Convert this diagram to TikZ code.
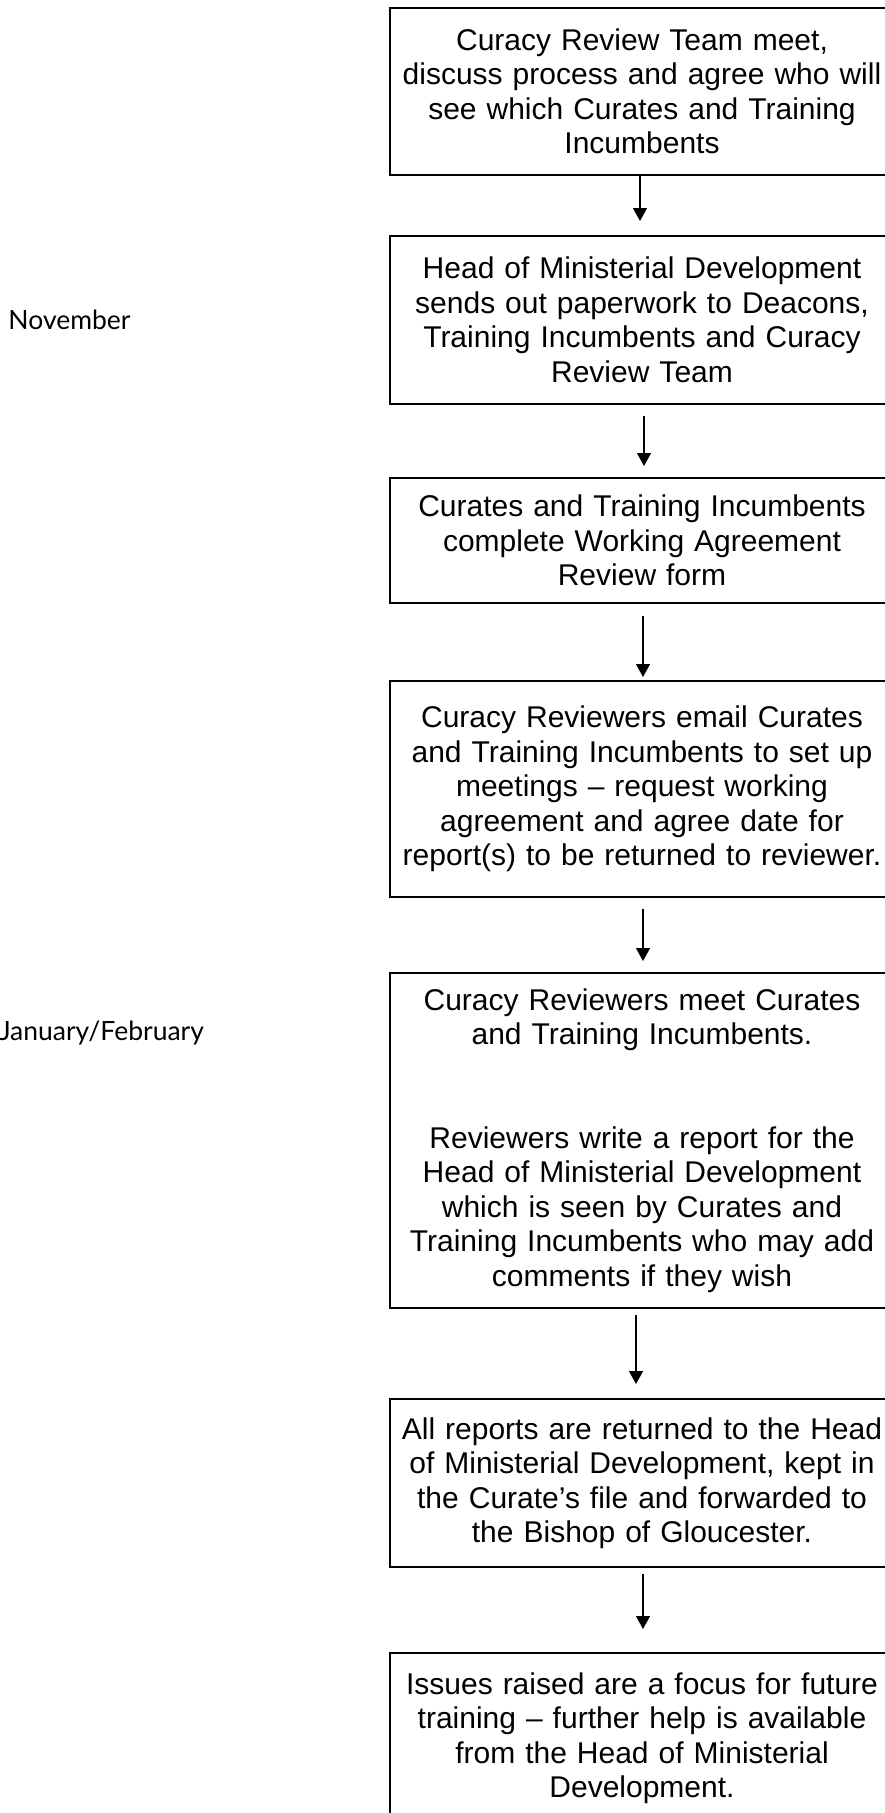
\documentclass[tikz,border=0pt]{standalone}
\usepackage{fontspec}
\setmainfont{Liberation Sans}
\newfontfamily\monthfont{Lato}
\usetikzlibrary{arrows.meta,positioning}

\begin{document}
\begin{tikzpicture}[
  x=0.4pt,y=-0.4pt,
  stepbox/.style={draw,line width=0.8pt,align=center,inner sep=0pt,
                  minimum width=201.6pt,text width=196pt,
                  font=\fontsize{12}{13.8}\selectfont},
  month/.style={anchor=base west,inner sep=0pt,
                font=\monthfont\fontsize{10.6}{13}\selectfont},
  arr/.style={line width=0.5pt,-{Triangle[length=5.2pt,width=5.6pt]}},
  ]
  \useasboundingbox (0,0) rectangle (885,1813);
  \clip (0,0) rectangle (885,1813);

  % months down the left side
  \node[month] (nov) at (8,329)    {November};
  \node[month] (jan) at (-1,1040)  {January/February};

  % the steps, top to bottom
  \node[stepbox,minimum height=66.8pt] (team) at (642,91.5)
    {Curacy Review Team meet,\\discuss process and agree who will\\see which Curates and Training\\Incumbents};
  \node[stepbox,minimum height=67.2pt] (papers) at (642,320)
    {Head of Ministerial Development\\sends out paperwork to Deacons,\\Training Incumbents and Curacy\\Review Team};
  \node[stepbox,minimum height=50pt] (form) at (642,540.5)
    {Curates and Training Incumbents\\complete Working Agreement\\Review form};
  \node[stepbox,minimum height=86.4pt] (email) at (642,789)
    {Curacy Reviewers email Curates\\and Training Incumbents to set up\\meetings -- request working\\agreement and agree date for\\report(s) to be returned to reviewer.};
  \node[stepbox,minimum height=134pt] (meet) at (642,1140.5)
    {Curacy Reviewers meet Curates\\and Training Incumbents.\\[27.6pt]Reviewers write a report for the\\Head of Ministerial Development\\which is seen by Curates and\\Training Incumbents who may add\\comments if they wish};
  \node[stepbox,minimum height=67.2pt] (returned) at (642,1483)
    {All reports are returned to the Head\\of Ministerial Development, kept in\\the Curate’s file and forwarded to\\the Bishop of Gloucester.};
  \node[stepbox,minimum height=68pt] (issues) at (642,1738)
    {Issues raised are a focus for future\\training -- further help is available\\from the Head of Ministerial\\Development.};

  \draw[arr,shorten >=5.6pt] ([xshift=-0.8pt]team.south) -- ([xshift=-0.8pt]papers.north);
  \draw[arr,shorten <=4.4pt,shorten >=4.4pt] ([xshift=0.8pt]papers.south) -- ([xshift=0.8pt]form.north);
  \draw[arr,shorten <=4.8pt,shorten >=1.2pt] ([xshift=0.4pt]form.south) -- ([xshift=0.4pt]email.north);
  \draw[arr,shorten <=4.4pt,shorten >=4.4pt] ([xshift=0.4pt]email.south) -- ([xshift=0.4pt]meet.north);
  \draw[arr,shorten <=2.4pt,shorten >=5.6pt] ([xshift=-2.4pt]meet.south) -- ([xshift=-2.4pt]returned.north);
  \draw[arr,shorten <=2.4pt,shorten >=9.2pt] ([xshift=0.4pt]returned.south) -- ([xshift=0.4pt]issues.north);
\end{tikzpicture}
\end{document}
